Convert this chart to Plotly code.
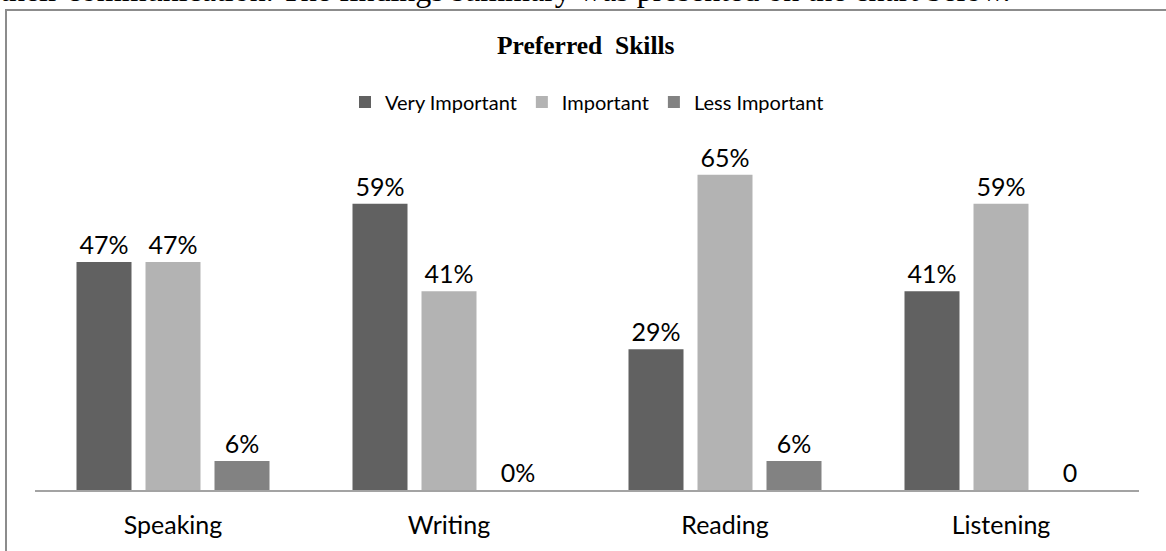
import plotly.graph_objects as go

categories = ["Speaking", "Writing", "Reading", "Listening"]
series_names = ["Very Important", "Important", "Less Important"]
very_important = [0.47, 0.59, 0.29, 0.41]
important = [0.47, 0.41, 0.65, 0.59]
less_important = [0.06, 0.00, 0.06, 0.00]
very_important_labels = ["47%", "59%", "29%", "41%"]
important_labels = ["47%", "41%", "65%", "59%"]
less_important_labels = ["6%", "0%", "6%", "0"]
colors = ["#616161", "#b3b3b3", "#828282"]

W, H = 1166, 551
ML, MR, MT, MB = 35, 27, 150, 61
plot_h = H - MT - MB

def py(p):
    # pixel (from top) to paper y
    return (H - MB - p) / plot_h

def px(p):
    return (p - ML) / (W - ML - MR)

fig = go.Figure()
for name, vals, labs, col in zip(series_names,
                                 [very_important, important, less_important],
                                 [very_important_labels, important_labels, less_important_labels],
                                 colors):
    fig.add_trace(go.Bar(
        name=name, x=categories, y=vals, text=labs,
        textposition="outside", cliponaxis=False,
        textfont=dict(family="Lato", size=25, color="#000000"),
        marker=dict(color=col, line=dict(width=0)),
    ))

fig.update_layout(
    width=W, height=H,
    margin=dict(l=ML, r=MR, t=MT, b=MB),
    paper_bgcolor="white", plot_bgcolor="white",
    barmode="group", bargap=0.25, bargroupgap=0.203,
    showlegend=True,
    legend=dict(orientation="h", x=0.5, xanchor="center", y=py(102), yanchor="middle",
                font=dict(family="Lato", size=20, color="#000000"),
                itemclick=False, bgcolor="rgba(0,0,0,0)"),
    xaxis=dict(showline=True, linecolor="#a3a3a3", linewidth=2, ticks="",
               ticklabelstandoff=12,
               tickfont=dict(family="Lato", size=25, color="#000000"),
               showgrid=False, zeroline=False, fixedrange=True),
    yaxis=dict(range=[0, plot_h / 485.0], visible=False, showgrid=False,
               zeroline=False, fixedrange=True),
    font=dict(family="Lato"),
)

fig.add_annotation(text="<b>Preferred\u00a0 Skills</b>", xref="paper", yref="paper",
                   x=px(586), y=py(45), xanchor="center", yanchor="middle",
                   showarrow=False,
                   font=dict(family="Liberation Serif", size=25.5, color="#000000"))

fig.add_annotation(text="their communication. The findings summary was presented on the chart below.",
                   xref="paper", yref="paper", x=px(-2), y=py(10), xanchor="left",
                   yanchor="bottom", showarrow=False,
                   font=dict(family="Liberation Serif", size=32, color="#000000"))

# chart border box (left and top visible, others beyond frame)
fig.add_shape(type="rect", xref="paper", yref="paper",
              x0=px(6), x1=px(1200), y0=py(600), y1=py(10),
              line=dict(color="#8c8c8c", width=2), fillcolor="rgba(0,0,0,0)", layer="below")

fig.write_html("out.html", config={"displayModeBar": False},
               post_script="document.body.style.margin='0';")
